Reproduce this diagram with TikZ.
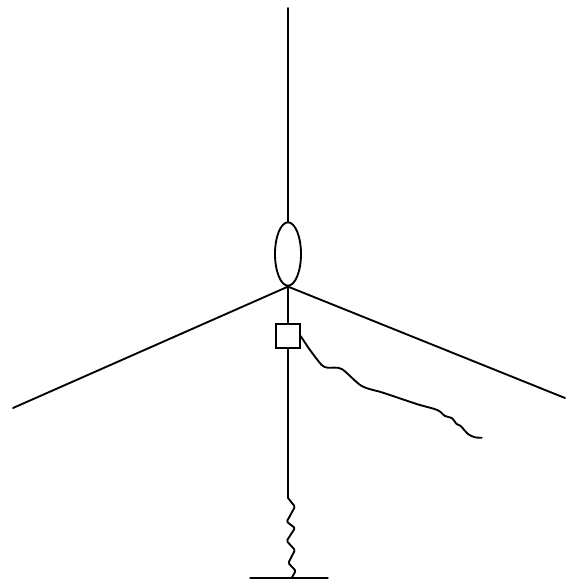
\documentclass[tikz,border=0pt]{standalone}
\usepackage{tikz}
\usetikzlibrary{shapes.geometric, positioning, calc}

\begin{document}
\begin{tikzpicture}[
  x=0.75pt, y=-0.75pt,
  hubell/.style={ellipse, draw=black, line width=1.4pt, inner sep=0pt,
    minimum width=19.5pt, minimum height=47.5pt},
  sqbox/.style={rectangle, draw=black, line width=1.4pt, inner sep=0pt,
    minimum size=17.5pt},
  line/.style={line width=1.4pt, line cap=round, line join=round}
]
  \useasboundingbox (0,0) rectangle (566,579);
  \node[hubell] (ell) at (288,254) {};
  \node[sqbox] (sq) at (288,336) {};
  \coordinate (top) at (288,8);
  \coordinate (left) at (13,408);
  \coordinate (right) at (565,398);
  \coordinate (foot) at (288,498);
  \coordinate (gndl) at (250,578);
  \coordinate (gndr) at (328,578);
  \coordinate (gndm) at (291.7,578);
  \coordinate (wireend) at (481.7,437.7);
  \draw[line] (top) -- (ell.north);
  \draw[line] (ell.south) -- (sq.north);
  \draw[line] (ell.south) -- (left);
  \draw[line] (ell.south) -- (right);
  \draw[line] (sq.south) -- (foot);
  \draw[line, line width=1pt] (gndl) -- (gndr);
  % spring
  \draw[line, rounded corners=1pt] (foot) -- (295,506.7) -- (286.7,521.7) -- (295,528) -- (286.7,541)
    -- (295,550) -- (288.3,563) -- (295.7,570.7) -- (gndm);
  % cable
  \draw[line] plot[smooth, tension=0.5] coordinates {(sq.east) (310,350) (321.7,365)
    (328,367.7) (341.7,369) (361.7,386) (383,392.7) (416.7,404) (437.3,410)
    (445,416) (451.7,418) (456.7,424) (460.7,426) (468,434) (475,437.3) (wireend)};
\end{tikzpicture}
\end{document}
